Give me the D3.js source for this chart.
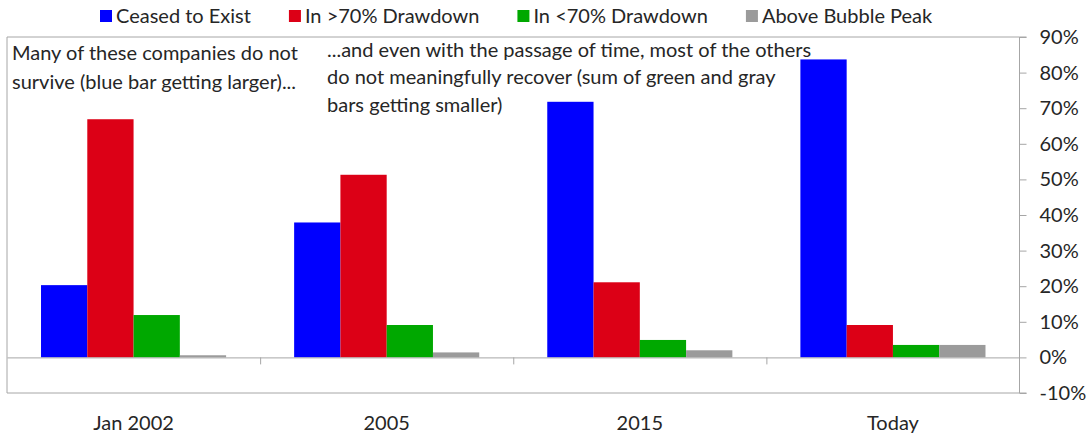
<!DOCTYPE html>
<html>
<head>
<meta charset="utf-8">
<script src="https://cdn.jsdelivr.net/npm/d3@7"></script>
<style>
  html, body { margin: 0; padding: 0; background: #fff; }
  svg { display: block; font-family: Lato, "Open Sans", sans-serif; }
</style>
</head>
<body>
<svg id="chart" width="1089" height="437"></svg>
<script>
// Share of bubble-era companies by outcome, at four points in time
const categories = ["Jan 2002", "2005", "2015", "Today"];
const seriesNames = ["Ceased to Exist", "In >70% Drawdown", "In <70% Drawdown", "Above Bubble Peak"];
const ceasedToExist   = [20.3, 37.9, 71.8, 83.7];
const deepDrawdown    = [66.9, 51.3, 21.1, 9.1];
const shallowDrawdown = [11.9, 9.1, 4.9, 3.5];
const aboveBubblePeak = [0.6, 1.4, 2.0, 3.5];
const yTicks = [-10, 0, 10, 20, 30, 40, 50, 60, 70, 80, 90];
const seriesColors = ["#0000ff", "#dc0016", "#00a800", "#9b9b9b"];

const seriesValues = [ceasedToExist, deepDrawdown, shallowDrawdown, aboveBubblePeak];
const rows = categories.map((c, i) => ({
  category: c,
  values: seriesNames.map((s, j) => ({ series: s, value: seriesValues[j][i] }))
}));

const svg = d3.select("#chart");
const textColor = "#262626";
const frameColor = "#a6a6a6";
const fontSize = 20;

const plotLeft = 7, plotRight = 1019.5, plotTop = 37, plotBottom = 393;

const x0 = d3.scaleBand().domain(categories).range([plotLeft, plotRight]).padding(0);
const x1 = d3.scaleBand().domain(seriesNames).range([0, x0.bandwidth()])
  .paddingInner(0).paddingOuter(0.735);
const y = d3.scaleLinear().domain([-10, 90]).range([plotBottom, plotTop]);
const color = d3.scaleOrdinal().domain(seriesNames).range(seriesColors);

// plot frame (left, top, bottom edges)
svg.append("path")
  .attr("d", `M${plotRight},${plotTop}H${plotLeft}V${plotBottom}H${plotRight}`)
  .attr("fill", "none").attr("stroke", frameColor).attr("stroke-width", 1);

// bars
const groups = svg.append("g").selectAll("g").data(rows).join("g")
  .attr("transform", d => `translate(${x0(d.category)},0)`);
groups.selectAll("rect").data(d => d.values).join("rect")
  .attr("x", d => x1(d.series))
  .attr("width", x1.bandwidth())
  .attr("y", d => y(Math.max(0, d.value)))
  .attr("height", d => Math.abs(y(d.value) - y(0)))
  .attr("fill", d => color(d.series));

// zero line with category separators
const zeroAxis = d3.axisBottom(d3.scaleLinear().domain([plotLeft, plotRight]).range([plotLeft, plotRight]))
  .tickValues(categories.slice(1).map(c => x0(c)))
  .tickSize(7).tickFormat("").tickSizeOuter(0);
svg.append("g").attr("transform", `translate(0,${y(0)})`).call(zeroAxis)
  .call(g => g.selectAll("line, path").attr("stroke", frameColor));

// category labels
const catAxis = d3.axisBottom(x0).tickSize(0).tickPadding(23);
svg.append("g").attr("transform", `translate(0,${plotBottom})`).call(catAxis)
  .call(g => g.select(".domain").remove())
  .call(g => g.selectAll("text").attr("fill", textColor)
    .style("font-size", fontSize + "px").style("font-family", "Lato, sans-serif"));

// right value axis
const yAxis = d3.axisRight(y).tickValues(yTicks).tickSize(7).tickPadding(13)
  .tickFormat(d => `${d}%`);
svg.append("g").attr("transform", `translate(${plotRight},0)`).call(yAxis)
  .call(g => g.selectAll("line, path").attr("stroke", frameColor))
  .call(g => g.select(".domain").attr("d", `M7,${plotBottom}H0V${plotTop}H7`))
  .call(g => g.selectAll("text").attr("fill", textColor)
    .style("font-size", fontSize + "px").style("font-family", "Lato, sans-serif"));

// legend
const legend = svg.append("g").attr("font-size", fontSize);
let lx = 100;
seriesNames.forEach(name => {
  const item = legend.append("g").attr("transform", `translate(${lx},0)`);
  item.append("rect").attr("x", 0).attr("y", 10).attr("width", 12).attr("height", 12)
    .attr("fill", color(name));
  const t = item.append("text").attr("x", 16).attr("y", 23).attr("fill", textColor).text(name);
  lx += 16 + t.node().getComputedTextLength() + 38;
});

// annotations
const notes = [
  { x: 12, y: 60, dy: 29, lines: ["Many of these companies do not", "survive (blue bar getting larger)..."] },
  { x: 327, y: 56.5, dy: 27.5, lines: ["...and even with the passage of time, most of the others",
    "do not meaningfully recover (sum of green and gray", "bars getting smaller)"] }
];
notes.forEach(n => {
  const t = svg.append("text").attr("fill", textColor).attr("font-size", fontSize);
  n.lines.forEach((line, i) => {
    t.append("tspan").attr("x", n.x).attr("y", n.y + i * n.dy).text(line);
  });
});
</script>
</body>
</html>
